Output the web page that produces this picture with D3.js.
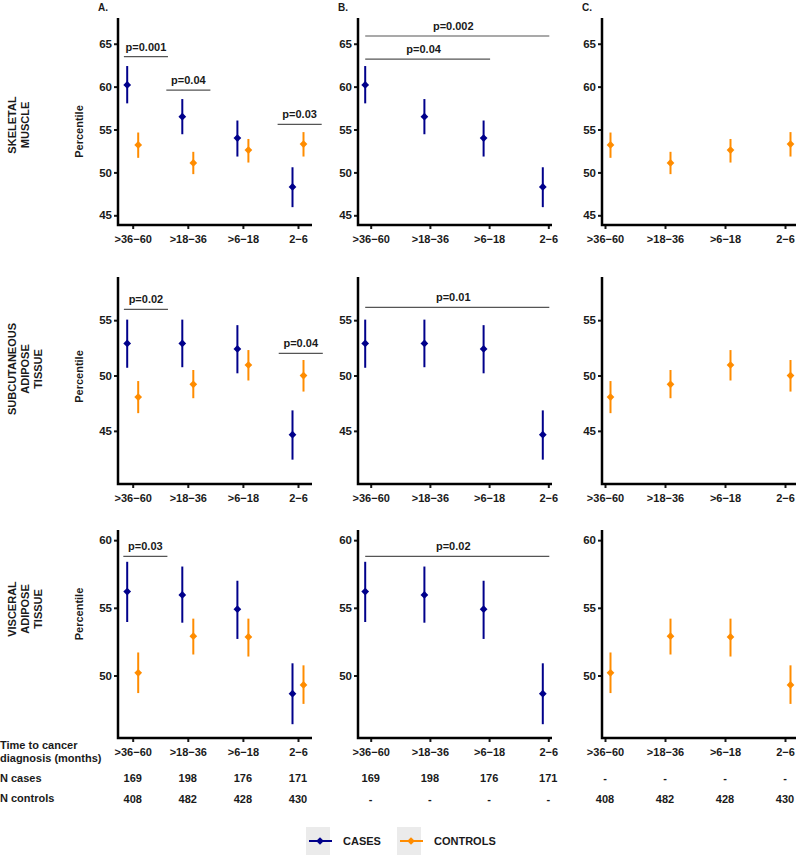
<!DOCTYPE html>
<html>
<head>
<meta charset="utf-8">
<script src="https://cdn.jsdelivr.net/npm/d3@7/dist/d3.min.js"></script>
<style>
  body { margin: 0; background: #fff; }
  svg text { font-family: "Liberation Sans", Arial, sans-serif; font-weight: bold; fill: #1a1a1a; }
</style>
</head>
<body>
<svg id="chart" width="800" height="855"></svg>
<script>
// Time windows before diagnosis
const categories = [">36\u221260", ">18\u221236", ">6\u221218", "2\u22126"];
const groupNames = ["CASES", "CONTROLS"];
const groupColors = ["#00008b", "#ff8c00"];

// Each entry: [mean, lower, upper] percentile
const smCases    = [[60.2, 58.05, 62.4], [56.5, 54.45, 58.55], [54.0, 51.85, 56.05], [48.3, 45.95, 50.6]];
const smControls = [[53.2, 51.7, 54.65], [51.1, 49.8, 52.4], [52.6, 51.15, 53.9], [53.3, 51.85, 54.7]];
const satCases    = [[52.9, 50.7, 55.05], [52.9, 50.75, 55.05], [52.4, 50.2, 54.55], [44.65, 42.4, 46.85]];
const satControls = [[48.05, 46.6, 49.5], [49.2, 47.95, 50.5], [50.95, 49.55, 52.3], [50.0, 48.55, 51.4]];
const vatCases    = [[56.2, 53.95, 58.4], [55.95, 53.9, 58.05], [54.9, 52.7, 57.0], [48.65, 46.4, 50.9]];
const vatControls = [[50.2, 48.7, 51.7], [52.9, 51.55, 54.2], [52.85, 51.4, 54.2], [49.3, 47.9, 50.75]];

const nCases = [169, 198, 176, 171];
const nControls = [408, 482, 428, 430];

// Row (tissue) labels, y ticks and y domains
const rowNames = [["SKELETAL", "MUSCLE"], ["SUBCUTANEOUS", "ADIPOSE", "TISSUE"], ["VISCERAL", "ADIPOSE", "TISSUE"]];
const rowTicks = [[45, 50, 55, 60, 65], [45, 50, 55], [50, 55, 60]];
const rowDomains = [[43.87, 68.0], [40.2, 58.9], [45.38, 60.75]];

// p-value brackets: panel A (cases vs controls at one window)
const bracketsA = [
  { row: 0, cat: 0, shift: 0.24, y: 63.5, label: "p=0.001" },
  { row: 0, cat: 1, shift: 0.01, y: 59.6, label: "p=0.04" },
  { row: 0, cat: 3, shift: 0.03, y: 55.6, label: "p=0.03" },
  { row: 1, cat: 0, shift: 0.24, y: 55.97, label: "p=0.02" },
  { row: 1, cat: 3, shift: 0.05, y: 52.0, label: "p=0.04" },
  { row: 2, cat: 0, shift: 0.23, y: 58.8, label: "p=0.03" }
];
// panel B (trend within cases)
const bracketsB = [
  { row: 0, from: 0, to: 3, y: 65.9, label: "p=0.002" },
  { row: 0, from: 0, to: 2, y: 63.2, label: "p=0.04" },
  { row: 1, from: 0, to: 3, y: 56.15, label: "p=0.01" },
  { row: 2, from: 0, to: 3, y: 58.8, label: "p=0.02" }
];

const rowData = [[smCases, smControls], [satCases, satControls], [vatCases, vatControls]];

// Layout
const rows = [
  { top: 18, bottom: 225, labelY: 125, percY: 131.5 },
  { top: 277, bottom: 484, labelY: 369, percY: 376.5 },
  { top: 530, bottom: 738, labelY: 609, percY: 614 }
];
const panels = [
  { name: "A.", x0: 118, x1: 312, t0: 132.7, t1: 298, groups: [0, 1] },
  { name: "B.", x0: 358, x1: 552, t0: 370.7, t1: 548.3, groups: [0] },
  { name: "C.", x0: 602, x1: 796, t0: 605, t1: 785, groups: [1] }
];
const dodge = [-5.5, 5.5];

const svg = d3.select("#chart");

// Diamond marker
const diamond = d3.symbol().type(d3.symbolSquare).size(30);

panels.forEach(function(p, pi) {
  var x = d3.scalePoint().domain(categories).range([p.t0, p.t1]);
  var step = x.step();

  // Panel letter
  svg.append("text")
    .attr("x", p.x0 - 20)
    .attr("y", 11)
    .style("font-size", "10px")
    .text(p.name);

  rows.forEach(function(r, ri) {
    var y = d3.scaleLinear().domain(rowDomains[ri]).range([r.bottom, r.top]);
    var g = svg.append("g");

    // Y axis
    var yAxis = g.append("g")
      .attr("transform", `translate(${p.x0},0)`)
      .call(d3.axisLeft(y).tickValues(rowTicks[ri]).tickSize(4).tickPadding(2));
    yAxis.select(".domain").remove();
    yAxis.selectAll(".tick line").attr("stroke", "#1a1a1a").attr("stroke-width", 2);
    yAxis.selectAll(".tick text").style("font-size", "11.5px").attr("fill", "#1a1a1a");

    // X axis
    var xAxis = g.append("g")
      .attr("transform", `translate(0,${r.bottom})`)
      .call(d3.axisBottom(x).tickSize(4).tickPadding(6));
    xAxis.select(".domain").remove();
    xAxis.selectAll(".tick line").attr("stroke", "#1a1a1a").attr("stroke-width", 2);
    xAxis.selectAll(".tick text").style("font-size", "11px").attr("fill", "#1a1a1a");

    // Axis lines
    g.append("path")
      .attr("d", `M${p.x0},${r.top}V${r.bottom}H${p.x1}`)
      .attr("fill", "none")
      .attr("stroke", "#000")
      .attr("stroke-width", 2.5);

    // Error bars and points
    p.groups.forEach(function(gi) {
      var series = rowData[ri][gi];
      var sg = g.append("g");
      sg.selectAll("line")
        .data(series)
        .enter()
          .append("line")
            .attr("x1", function(d, i) { return x(categories[i]) + dodge[gi]; })
            .attr("x2", function(d, i) { return x(categories[i]) + dodge[gi]; })
            .attr("y1", function(d) { return y(d[1]); })
            .attr("y2", function(d) { return y(d[2]); })
            .attr("stroke", groupColors[gi])
            .attr("stroke-width", 2);
      sg.selectAll("path")
        .data(series)
        .enter()
          .append("path")
            .attr("d", diamond)
            .attr("transform", function(d, i) {
              return `translate(${x(categories[i]) + dodge[gi]},${y(d[0])}) rotate(45)`;
            })
            .attr("fill", groupColors[gi]);
    });

    // p-value brackets
    var brackets = [];
    if (pi == 0) {
      bracketsA.filter(function(b) { return b.row == ri; }).forEach(function(b) {
        var c = x(categories[b.cat]) + b.shift * step;
        brackets.push({ a: c - 0.4 * step, b: c + 0.4 * step, y: b.y, label: b.label });
      });
    } else if (pi == 1) {
      bracketsB.filter(function(b) { return b.row == ri; }).forEach(function(b) {
        brackets.push({ a: x(categories[b.from]) + dodge[0], b: x(categories[b.to]) + 1, y: b.y, label: b.label });
      });
    }
    brackets.forEach(function(b) {
      g.append("line")
        .attr("x1", b.a).attr("x2", b.b)
        .attr("y1", y(b.y)).attr("y2", y(b.y))
        .attr("stroke", "#555")
        .attr("stroke-width", 1.2);
      g.append("text")
        .attr("x", (b.a + b.b) / 2 - (pi == 1 ? 4 : 0))
        .attr("y", y(b.y) - 6)
        .attr("text-anchor", "middle")
        .style("font-size", "11px")
        .text(b.label);
    });
  });

  // N table under the last row
  var casesRow = pi == 2 ? categories.map(function() { return "-"; }) : nCases;
  var controlsRow = pi == 1 ? categories.map(function() { return "-"; }) : nControls;
  [casesRow, controlsRow].forEach(function(vals, k) {
    svg.append("g")
      .selectAll("text")
      .data(vals)
      .enter()
        .append("text")
          .attr("x", function(d, i) { return x(categories[i]); })
          .attr("y", k == 0 ? 782 : 803)
          .attr("text-anchor", "middle")
          .style("font-size", "11px")
          .text(function(d) { return d; });
  });
});

// Row labels
rows.forEach(function(r, ri) {
  var lines = rowNames[ri];
  var lab = svg.append("text")
    .attr("transform", `translate(12,${r.labelY}) rotate(-90)`)
    .attr("text-anchor", "middle")
    .style("font-size", "11px");
  lines.forEach(function(t, i) {
    lab.append("tspan")
      .attr("x", 0)
      .attr("y", 4 + i * 13.2)
      .text(t);
  });
  svg.append("text")
    .attr("transform", `translate(83,${r.percY}) rotate(-90)`)
    .attr("text-anchor", "middle")
    .style("font-size", "11px")
    .text("Percentile");
});

// Table row labels
var tableLabels = [["Time to cancer", 749], ["diagnosis (months)", 762], ["N cases", 782], ["N controls", 802]];
svg.append("g")
  .selectAll("text")
  .data(tableLabels)
  .enter()
    .append("text")
      .attr("x", 0)
      .attr("y", function(d) { return d[1]; })
      .style("font-size", "11px")
      .text(function(d) { return d[0]; });

// Legend
var legend = svg.append("g").attr("transform", "translate(306,827)");
var legendX = [0, 91];
groupNames.forEach(function(name, gi) {
  var lg = legend.append("g").attr("transform", `translate(${legendX[gi]},0)`);
  lg.append("rect")
    .attr("width", 24).attr("height", 28)
    .attr("fill", "#ebebeb");
  lg.append("line")
    .attr("x1", 3).attr("x2", 26)
    .attr("y1", 14).attr("y2", 14)
    .attr("stroke", groupColors[gi])
    .attr("stroke-width", 2);
  lg.append("path")
    .attr("d", diamond)
    .attr("transform", "translate(14,14) rotate(45)")
    .attr("fill", groupColors[gi]);
  lg.append("text")
    .attr("x", 37)
    .attr("y", 18)
    .style("font-size", "11px")
    .text(name);
});
</script>
</body>
</html>
